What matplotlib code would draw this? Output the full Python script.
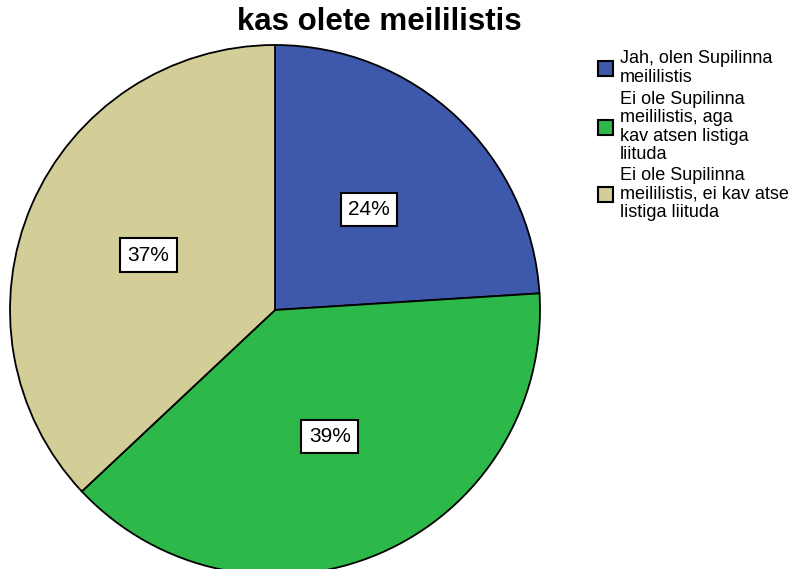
import matplotlib.pyplot as plt
from matplotlib.patches import Rectangle

title = 'kas olete meililistis'
labels = ['Jah, olen Supilinna\nmeililistis',
          'Ei ole Supilinna\nmeililistis, aga\nkav atsen listiga\nliituda',
          'Ei ole Supilinna\nmeililistis, ei kav atse\nlistiga liituda']
shares = [24, 39, 37]
colors = ['#3e58ac', '#2db84a', '#d3ce97']

W, H = 802, 569
plt.rcParams['font.family'] = ['Liberation Sans', 'DejaVu Sans']

fig = plt.figure(figsize=(W / 100, H / 100), dpi=100)
ax = fig.add_axes([0, 0, 1, 1])

wedges, texts, autotexts = ax.pie(
    shares, colors=colors, startangle=90, counterclock=False,
    center=(275, H - 310), radius=265, autopct='%d%%', pctdistance=0.52,
    wedgeprops=dict(edgecolor='black', linewidth=1.3),
    textprops=dict(fontsize=15, color='black'))
for t in autotexts:
    t.set_bbox(dict(facecolor='white', edgecolor='black', linewidth=1.5, boxstyle='square,pad=0.35'))

# pie() resets the limits, so set the pixel frame afterwards
ax.set_xlim(0, W)
ax.set_ylim(0, H)
ax.set_aspect('equal')
ax.axis('off')

fig.text(379 / W, 1 - 22 / H, title, ha='center', va='center', fontsize=22.5, fontweight='bold')

# legend drawn by hand to match the original spacing
ys = [68, 127, 194]
for y, lab, c in zip(ys, labels, colors):
    ax.add_patch(Rectangle((598, H - y - 7.5), 15, 15, facecolor=c, edgecolor='black', linewidth=1.5, clip_on=False))
    ax.text(620, H - y, lab, ha='left', va='center', fontsize=13, linespacing=1.08)

fig.savefig('out.png', dpi=100)
